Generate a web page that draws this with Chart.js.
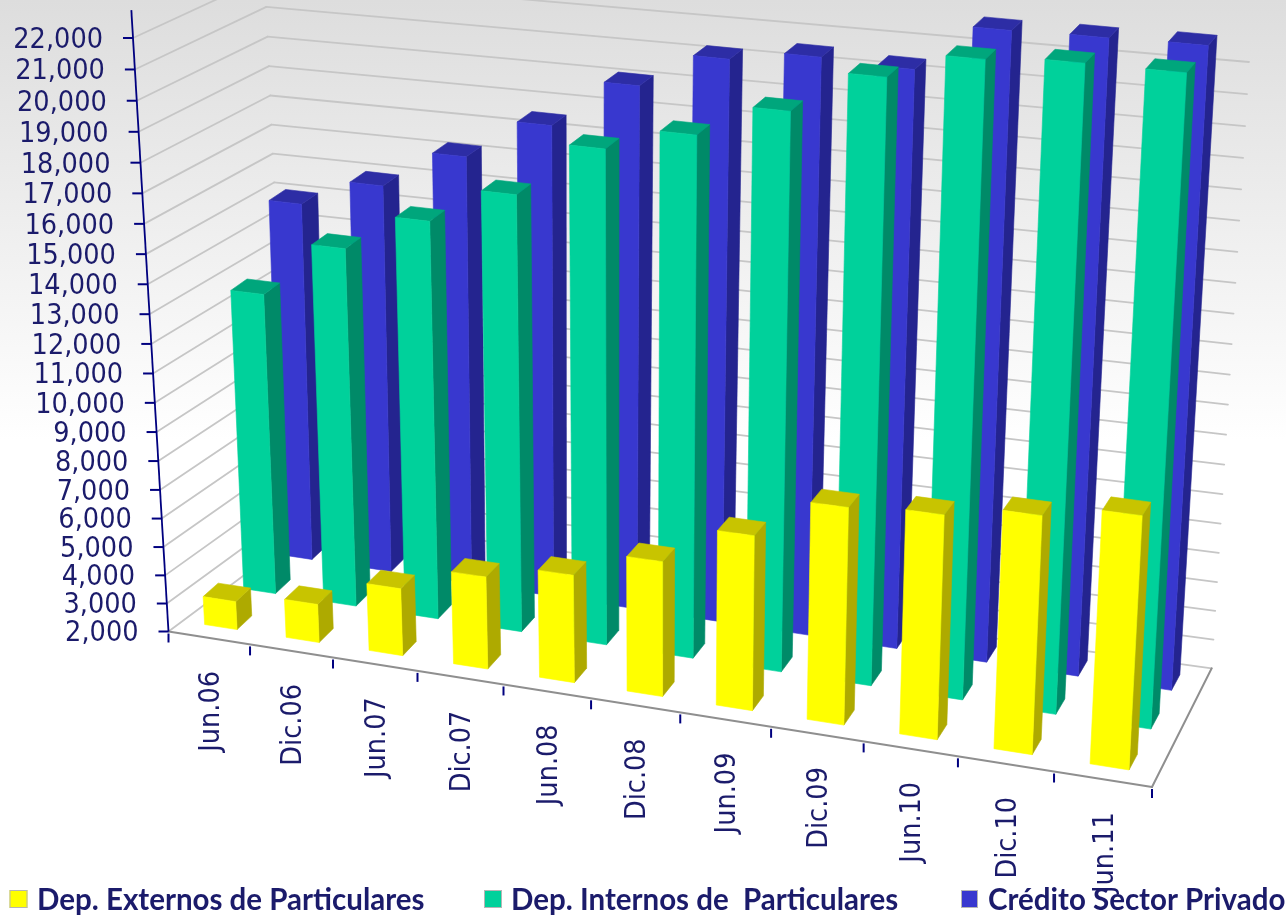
<!DOCTYPE html>
<html lang="es"><head><meta charset="utf-8">
<title>Depósitos y crédito</title>
<style>
html,body{margin:0;padding:0;background:#fff}
body{width:1286px;height:916px;overflow:hidden;background:linear-gradient(#dddddd 0,#ffffff 440px)}
canvas{display:block}
</style>
<script src="https://cdn.jsdelivr.net/npm/chart.js@4"></script>
</head><body>
<canvas id="c" width="1286" height="916"></canvas>
<script>
const categories = ['Jun.06','Dic.06','Jun.07','Dic.07','Jun.08','Dic.08','Jun.09','Dic.09','Jun.10','Dic.10','Jun.11'];
const depExternos = [3000,3350,4350,5200,5700,6600,7900,9250,9430,9830,10250];
const depInternos = [12600,14500,15750,16950,18750,19500,20550,21900,22730,22900,22900];
const creditoPrivado = [14750,15700,17000,18350,19950,21100,21450,21350,22850,22900,22950];
const seriesNames = ['Dep. Externos de Particulares','Dep. Internos de  Particulares','Crédito Sector Privado'];
const yTicks = [2000,3000,4000,5000,6000,7000,8000,9000,10000,11000,12000,13000,14000,15000,16000,17000,18000,19000,20000,21000,22000];
const yMin = 2000, yMax = 23100, yCalib = 22000, yAxisEnd = 22880;

// View of the 3D box (screen corners of floor and of the top plane at yCalib)
const floorQ = {A:[168.5,631.5],B:[1152,787],C:[1211.7,668.3],D:[290,541]};
const topQ   = {A:[133,38],B:[1187,142],C:[1249,62],D:[265,-23]};
const barFloorQ = {A:[168.5,631.5],B:[1152,787],C:[1208,679],D:[272.5,537.5]};
const barTopQ   = {A:[133,38],B:[1187,142],C:[1245,69],D:[255,-25.5]};
const uPersp = 0.904, wTop = 0.94;
const rowFront = [0.115,0.495,0.855], rowDepth = 0.145;
const faces = [
 {front:'#ffff00',top:'#c8c400',side:'#aeaa00'},
 {front:'#00d19b',top:'#00a67c',side:'#008a68'},
 {front:'#3838cf',top:'#2d2da5',side:'#24248f'}];
const INK='#1b1b6b', NAVY='#00007f', GRID='#c6c6c6', EDGE='#8f8f8f';
const NUM_FONT='28.5px "DejaVu Sans Condensed","DejaVu Sans"';

function bilin(q,s,d){
  const fx=q.A[0]+(q.B[0]-q.A[0])*s, fy=q.A[1]+(q.B[1]-q.A[1])*s;
  const bx=q.D[0]+(q.C[0]-q.D[0])*s, by=q.D[1]+(q.C[1]-q.D[1])*s;
  return [fx+(bx-fx)*d, fy+(by-fy)*d];
}
function projQ(fq,tq,u,d,t){
  const s=u*uPersp/(u*uPersp+1-u);
  const F=bilin(fq,s,d), T=bilin(tq,s,d);
  const den=(1-t)+wTop*t;
  return [(F[0]*(1-t)+wTop*T[0]*t)/den,(F[1]*(1-t)+wTop*T[1]*t)/den];
}
const proj=(u,d,t)=>projQ(floorQ,topQ,u,d,t);
const projBar=(u,d,t)=>projQ(barFloorQ,barTopQ,u,d,t);
function tOf(chart,px){const y=chart.scales.y;const b=y.getPixelForValue(yMin),c=y.getPixelForValue(yCalib);return (b-px)/(b-c);}
function uOf(chart,px){const x=chart.scales.x;return (px-x.left)/x.width;}
function poly(ctx,pts,col){ctx.beginPath();pts.forEach((p,i)=>i?ctx.lineTo(p[0],p[1]):ctx.moveTo(p[0],p[1]));ctx.closePath();ctx.fillStyle=col;ctx.fill();ctx.strokeStyle=col;ctx.lineWidth=.6;ctx.stroke();}
function seg(ctx,a,b,col,w){ctx.beginPath();ctx.moveTo(a[0],a[1]);ctx.lineTo(b[0],b[1]);ctx.strokeStyle=col;ctx.lineWidth=w;ctx.stroke();}

class Bar3D extends Chart.BarController{
  draw(){
    const chart=this.chart,ctx=chart.ctx,meta=this.getMeta(),row=this.index,f=faces[row];
    const d0=rowFront[row],d1=d0+rowDepth;
    ctx.save();
    meta.data.forEach(el=>{
      const u0=uOf(chart,el.x-el.width/2),u1=uOf(chart,el.x+el.width/2);
      const t=tOf(chart,el.y),b=tOf(chart,el.base);
      poly(ctx,[projBar(u1,d0,b),projBar(u1,d1,b),projBar(u1,d1,t),projBar(u1,d0,t)],f.side);
      poly(ctx,[projBar(u0,d0,t),projBar(u1,d0,t),projBar(u1,d1,t),projBar(u0,d1,t)],f.top);
      poly(ctx,[projBar(u0,d0,b),projBar(u1,d0,b),projBar(u1,d0,t),projBar(u0,d0,t)],f.front);
    });
    ctx.restore();
  }
}
Bar3D.id='bar3d';
Bar3D.defaults=Chart.BarController.defaults;
Bar3D.overrides=Chart.BarController.overrides;
Chart.register(Bar3D);

const box3d={
  id:'box3d',
  beforeDatasetsDraw(chart){
    const ctx=chart.ctx,y=chart.scales.y,x=chart.scales.x;
    ctx.save();ctx.lineCap='round';
    y.ticks.forEach(tk=>{
      const t=tOf(chart,y.getPixelForValue(tk.value));
      seg(ctx,proj(0,0,t),proj(0,1,t),GRID,1.8);
      seg(ctx,proj(0,1,t),proj(1,1,t),GRID,1.8);
    });
    seg(ctx,proj(1,0,0),proj(1,1,0),EDGE,2);
    seg(ctx,proj(0,0,0),proj(1,0,0),EDGE,2);
    ctx.lineCap='butt';
    for(let i=0;i<=categories.length;i++){
      const u=i/categories.length,p=proj(u,0,0);
      seg(ctx,[p[0],p[1]+2],[p[0],p[1]+11],NAVY,2);
    }
    ctx.fillStyle=INK;ctx.font=NUM_FONT;ctx.textAlign='right';ctx.textBaseline='middle';
    x.getLabels().forEach((lab,i)=>{
      const p=proj(uOf(chart,x.getPixelForValue(i)),0,0);
      ctx.save();ctx.translate(p[0]+2.5,p[1]+33);ctx.rotate(-Math.PI/2);ctx.fillText(lab,0,0);ctx.restore();
    });
    seg(ctx,proj(0,0,0),proj(0,0,tOf(chart,y.getPixelForValue(yAxisEnd))),NAVY,1.8);
    y.ticks.forEach(tk=>{
      const t=tOf(chart,y.getPixelForValue(tk.value)),p=proj(0,0,t);
      seg(ctx,[p[0]-10,p[1]],[p[0],p[1]],NAVY,2);
      ctx.fillStyle=INK;ctx.textAlign='right';ctx.textBaseline='middle';
      ctx.fillText(tk.label,p[0]-30,p[1]+2.5);
    });
    ctx.restore();
  },
  afterDraw(chart){
    const ctx=chart.ctx;
    const xs=[[9.5,18,37],[484,18,511],[961,17,988]];
    ctx.save();
    chart.data.datasets.forEach((ds,i)=>{
      const [bx,bw,tx]=xs[i];
      ctx.fillStyle=ds.backgroundColor;ctx.fillRect(bx,890,bw,18);
      ctx.strokeStyle='#b5b5b5';ctx.lineWidth=1;ctx.strokeRect(bx+.5,890.5,bw-1,17);
      ctx.fillStyle=INK;ctx.font='bold 29.5px Lato';ctx.textAlign='left';ctx.textBaseline='middle';
      ctx.fillText(ds.label,tx,900);
    });
    ctx.restore();
  }
};

new Chart(document.getElementById('c'),{
  type:'bar3d',
  data:{labels:categories,datasets:[depExternos,depInternos,creditoPrivado].map((v,i)=>({
    label:seriesNames[i],data:v,backgroundColor:faces[i].front,clip:false,grouped:false,base:yMin,
    barPercentage:.4,categoryPercentage:1}))},
  options:{
    responsive:false,animation:false,
    layout:{padding:0},
    plugins:{legend:{display:false},tooltip:{enabled:false}},
    scales:{
      x:{type:'category',grid:{display:false},border:{display:false},ticks:{display:false}},
      y:{type:'linear',min:yMin,max:yMax,grid:{display:false},border:{display:false},
         afterBuildTicks(s){s.ticks=yTicks.map(value=>({value}));},
         ticks:{display:false,callback:v=>v.toLocaleString('en-US')}}
    }
  },
  plugins:[box3d]
});
</script>
</body></html>
